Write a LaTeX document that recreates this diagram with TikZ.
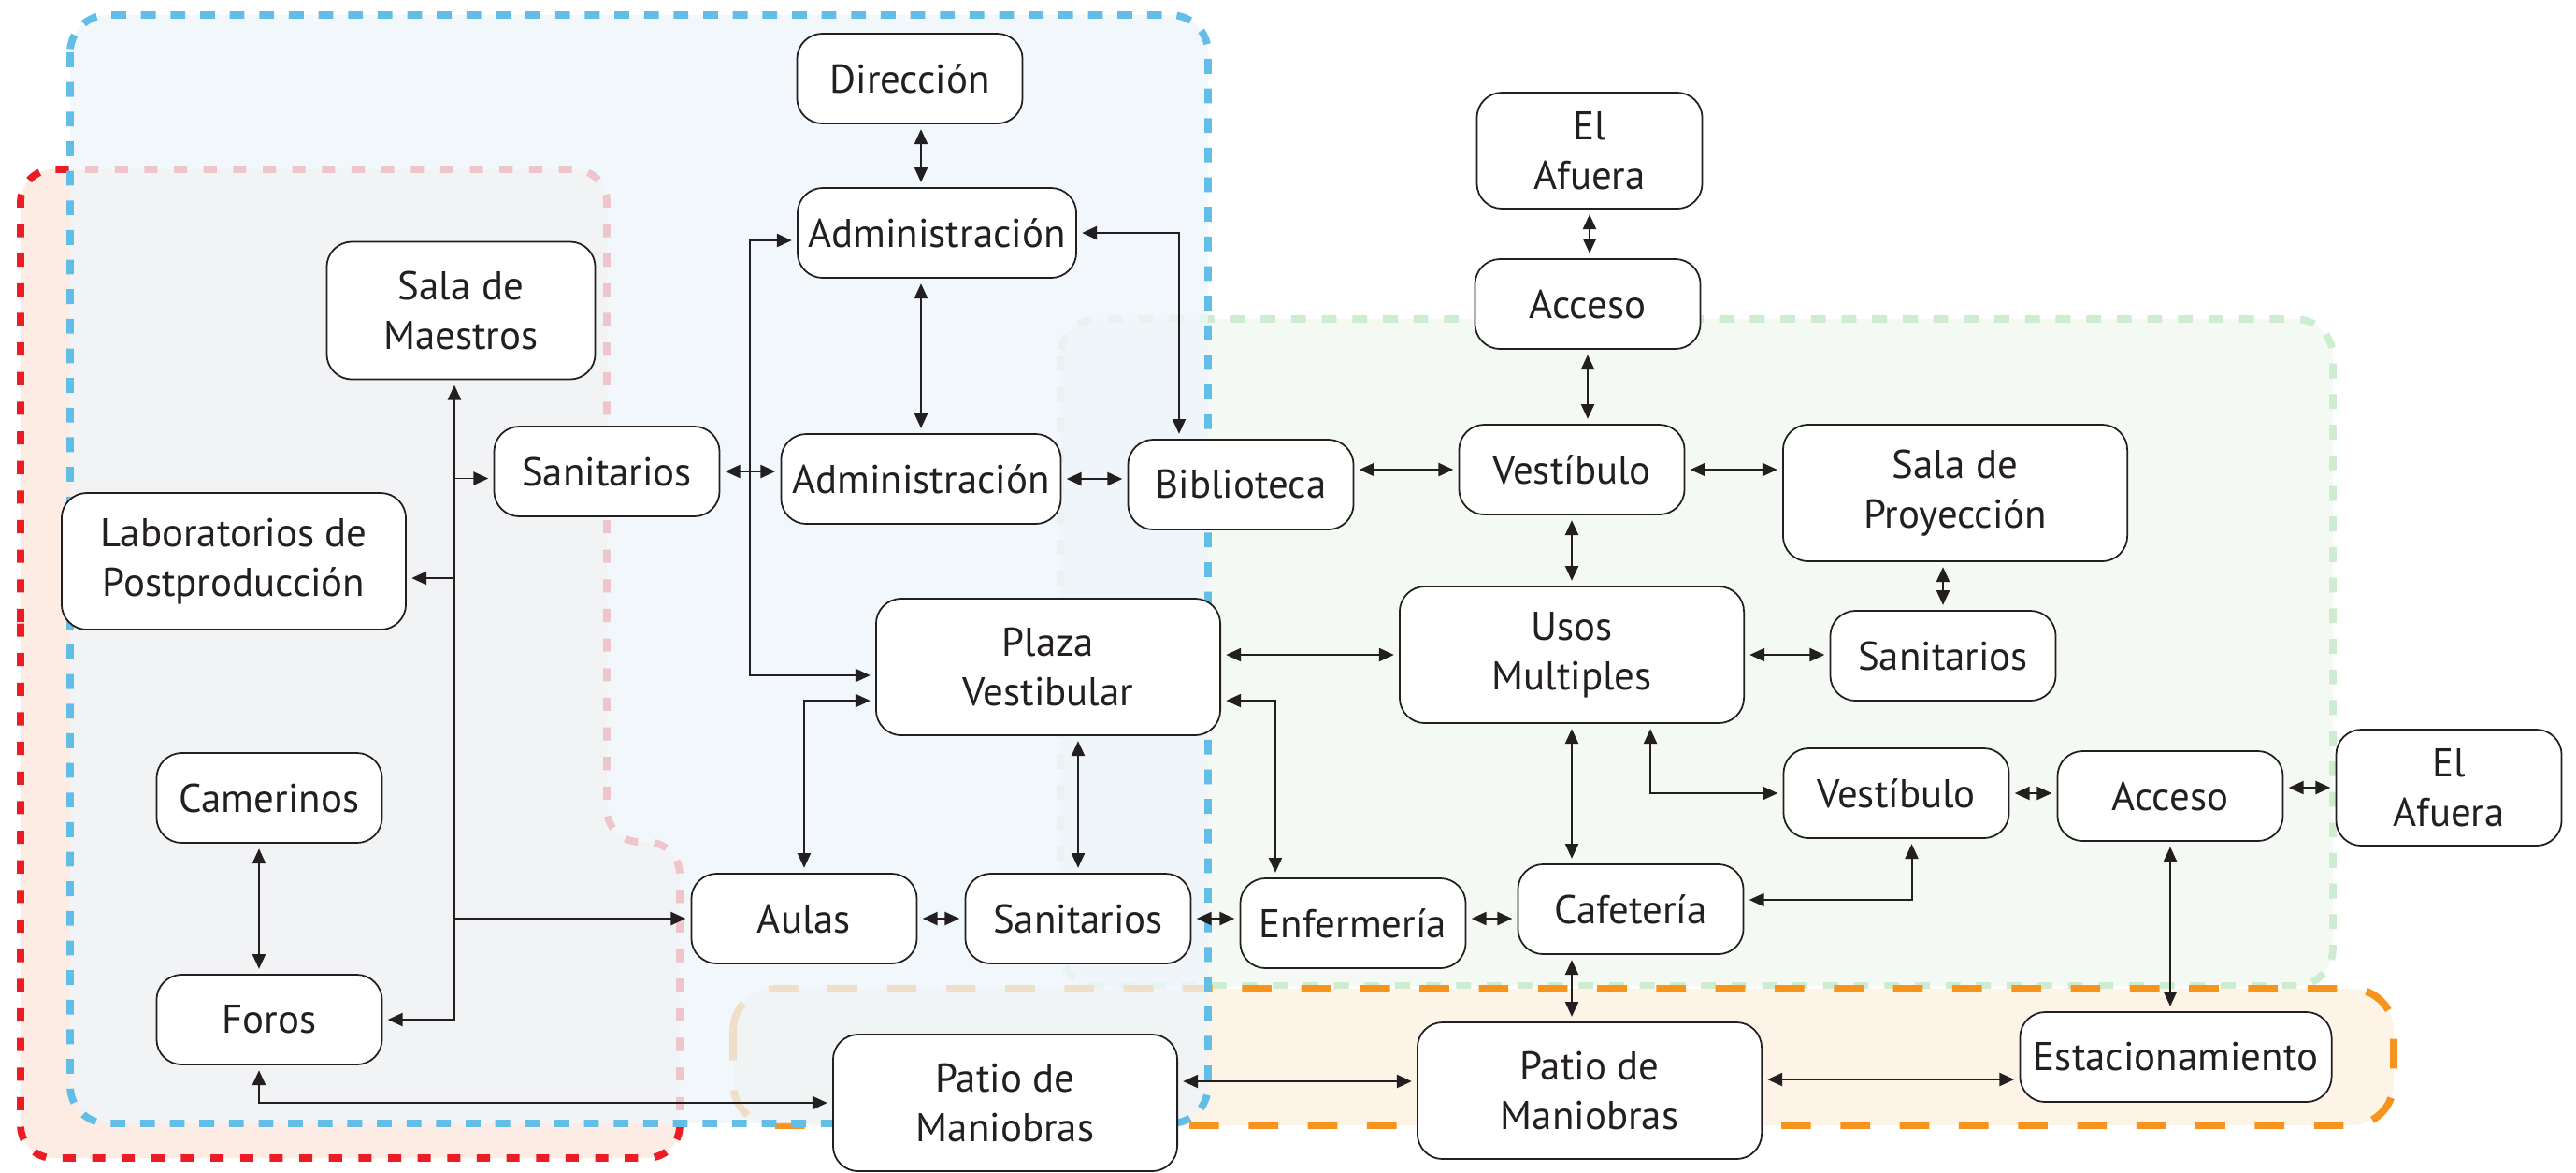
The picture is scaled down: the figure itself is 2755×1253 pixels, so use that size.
\documentclass[tikz,border=0pt]{standalone}
\usepackage{fontspec}
\setmainfont{PT Sans}
\usepackage{xcolor}
\usepackage{tikz}
\usetikzlibrary{arrows.meta}

\definecolor{ink}{RGB}{35,31,32}
\definecolor{zoneblue}{RGB}{98,190,230}
\definecolor{zonebluefill}{RGB}{238,245,250}
\definecolor{zonered}{RGB}{237,28,36}
\definecolor{zoneredfill}{RGB}{252,236,228}
\definecolor{zonegreen}{RGB}{205,236,208}
\definecolor{zonegreenfill}{RGB}{244,249,243}
\definecolor{zoneorange}{RGB}{247,148,29}
\definecolor{zoneorangefill}{RGB}{253,243,230}

\begin{document}
\begin{tikzpicture}[x=0.01cm, y=-0.01cm,
    room/.style={draw=ink, line width=0.5pt, fill=white, rounded corners=0.27cm, align=center, inner sep=0pt,
        minimum width=2.41cm, minimum height=0.96cm, text=ink, font=\fontsize{12.2pt}{15.2pt}\selectfont},
    bigroom/.style={room, minimum width=3.68cm, minimum height=1.46cm},
    tallroom/.style={room, minimum height=1.24cm},
    link/.style={draw=ink, line width=0.55pt, {Triangle[length=4.5pt,width=4pt]}-{Triangle[length=4.5pt,width=4pt]},
        shorten <=1.5pt, shorten >=1.5pt},
    feed/.style={draw=ink, line width=0.55pt, -{Triangle[length=4.5pt,width=4pt]}, shorten >=1.5pt},
    zone/.style={line width=2.2pt, rounded corners=0.4cm}]
    \useasboundingbox (0,0) rectangle (2755,1253);

    \draw[zone, draw=zonered, fill=zoneredfill, dash pattern=on 4pt off 5pt, rounded corners=0.35cm]
        (22,700) -- (22,181) -- (649,181) -- (649,900) -- (727,900) -- (727,1238) -- (22,1238) -- cycle;
    \draw[zone, draw=zonegreen, fill=zonegreenfill, dash pattern=on 4.5pt off 4.8pt] (1134,341) rectangle (2495,1054);
    \draw[zone, draw=zoneorange, fill=zoneorangefill, dash pattern=on 9pt off 9pt, rounded corners=0.45cm] (784,1057) rectangle (2560,1203);
    \draw[zone, draw=zoneblue, fill=zonebluefill, fill opacity=0.78, dash pattern=on 4.5pt off 4.5pt] (75,16) rectangle (1292,1201);

    \node[room] (dir) at (973,84) {Dirección};
    \node[room, minimum width=2.98cm] (admA) at (1002,249) {Administración};
    \node[room, minimum width=2.87cm, minimum height=1.47cm] (sala) at (493,332) {Sala de\\Maestros};
    \node[room] (sanL) at (649,504) {Sanitarios};
    \node[room, minimum width=2.99cm] (admB) at (985,512) {Administración};
    \node[room] (bib) at (1327,518) {Biblioteca};
    \node[bigroom] (lab) at (250,600) {Laboratorios de\\Postproducción};
    \node[tallroom] (afA) at (1700,161) {El\\Afuera};
    \node[room] (accA) at (1698,325) {Acceso};
    \node[room] (vesA) at (1681,502) {Vestíbulo};
    \node[bigroom] (salaP) at (2091,527) {Sala de\\Proyección};
    \node[bigroom] (plaza) at (1121,713) {Plaza\\Vestibular};
    \node[bigroom] (usos) at (1681,700) {Usos\\Multiples};
    \node[room] (sanR) at (2078,701) {Sanitarios};
    \node[room] (cam) at (288,853) {Camerinos};
    \node[room] (vesB) at (2028,848) {Vestíbulo};
    \node[room] (accB) at (2321,851) {Acceso};
    \node[tallroom] (afB) at (2619,842) {El\\Afuera};
    \node[room] (aulas) at (860,982) {Aulas};
    \node[room] (sanM) at (1153,982) {Sanitarios};
    \node[room] (enf) at (1447,987) {Enfermería};
    \node[room] (caf) at (1744,972) {Cafetería};
    \node[room] (foros) at (288,1090) {Foros};
    \node[bigroom] (patA) at (1075,1179) {Patio de\\Maniobras};
    \node[bigroom] (patB) at (1700,1166) {Patio de\\Maniobras};
    \node[room, minimum width=3.33cm] (estac) at (2327,1130) {Estacionamiento};

    \coordinate (trunk) at (486,0);
    \coordinate (bus) at (802,500);

    \draw[link] (dir.south -| admB) -- (admA.north -| admB);
    \draw[link] (admA.south -| admB) -- (admB.north);
    \draw[link] (admA.east) -| ([xshift=-0.66cm]bib.north);
    \draw[link] ([yshift=-0.08cm]admA.west) -| (bus) |- ([yshift=-0.09cm]plaza.west);
    \draw[link] (sanL.east) -- (sanL.east -| admB.west);
    \draw[link] (admB.east) -- (admB.east -| bib.west);
    \draw[link] (vesA.west -| bib.east) -- (vesA.west);
    \draw[link] (vesA.east) -- (vesA.east -| salaP.west);
    \draw[link] (afA.south) -- (afA.south |- accA.north);
    \draw[link] (accA.south) -- (accA.south |- vesA.north);
    \draw[link] (vesA.south) -- (usos.north);
    \draw[link] (salaP.south -| sanR) -- (sanR.north);
    \draw[link] (usos.west -| plaza.east) -- (usos.west);
    \draw[link] (usos.east) -- (usos.east -| sanR.west);
    \draw[link] (usos.south) -- (usos.south |- caf.north);
    \draw[link] ([xshift=0.84cm]usos.south) |- (vesB.west);
    \draw[link] (vesB.east) -- (vesB.east -| accB.west);
    \draw[link] (afB.west -| accB.east) -- (afB.west);
    \draw[link] (accB.south) -- (accB.south |- estac.north);
    \draw[link] ([yshift=0.1cm]caf.east) -| ([xshift=0.165cm]vesB.south);
    \draw[link] ([yshift=-0.36cm]plaza.east) -| ([xshift=-0.83cm]enf.north);
    \draw[link] (plaza.south -| sanM) -- (sanM.north);
    \draw[link] ([yshift=-0.36cm]plaza.west) -| (aulas.north);
    \draw[link] (aulas.east) -- (sanM.west);
    \draw[link] (sanM.east) -- (sanM.east -| enf.west);
    \draw[link] (sanM.east -| enf.east) -- (sanM.east -| caf.west);
    \draw[link] (usos.south |- caf.south) -- (usos.south |- patB.north);
    \draw[link] ([yshift=0.1cm]patB.west -| patA.east) -- ([yshift=0.1cm]patB.west);
    \draw[link] ([yshift=0.12cm]patB.east) -- ([yshift=0.12cm]patB.east -| estac.west);
    \draw[link] ([xshift=-0.11cm]foros.south) |- (patA.west);
    \draw[link] ([xshift=-0.11cm]cam.south) -- ([xshift=-0.11cm]foros.north);
    \draw[link] ([xshift=-0.07cm]sala.south) |- (foros.east);
    \draw[feed] ([yshift=-0.075cm]sanL.west -| trunk) -- ([yshift=-0.075cm]sanL.west);
    \draw[feed] ([yshift=-0.18cm]lab.east -| trunk) -- ([yshift=-0.18cm]lab.east);
    \draw[feed] (aulas.west -| trunk) -- (aulas.west);
\end{tikzpicture}
\end{document}
